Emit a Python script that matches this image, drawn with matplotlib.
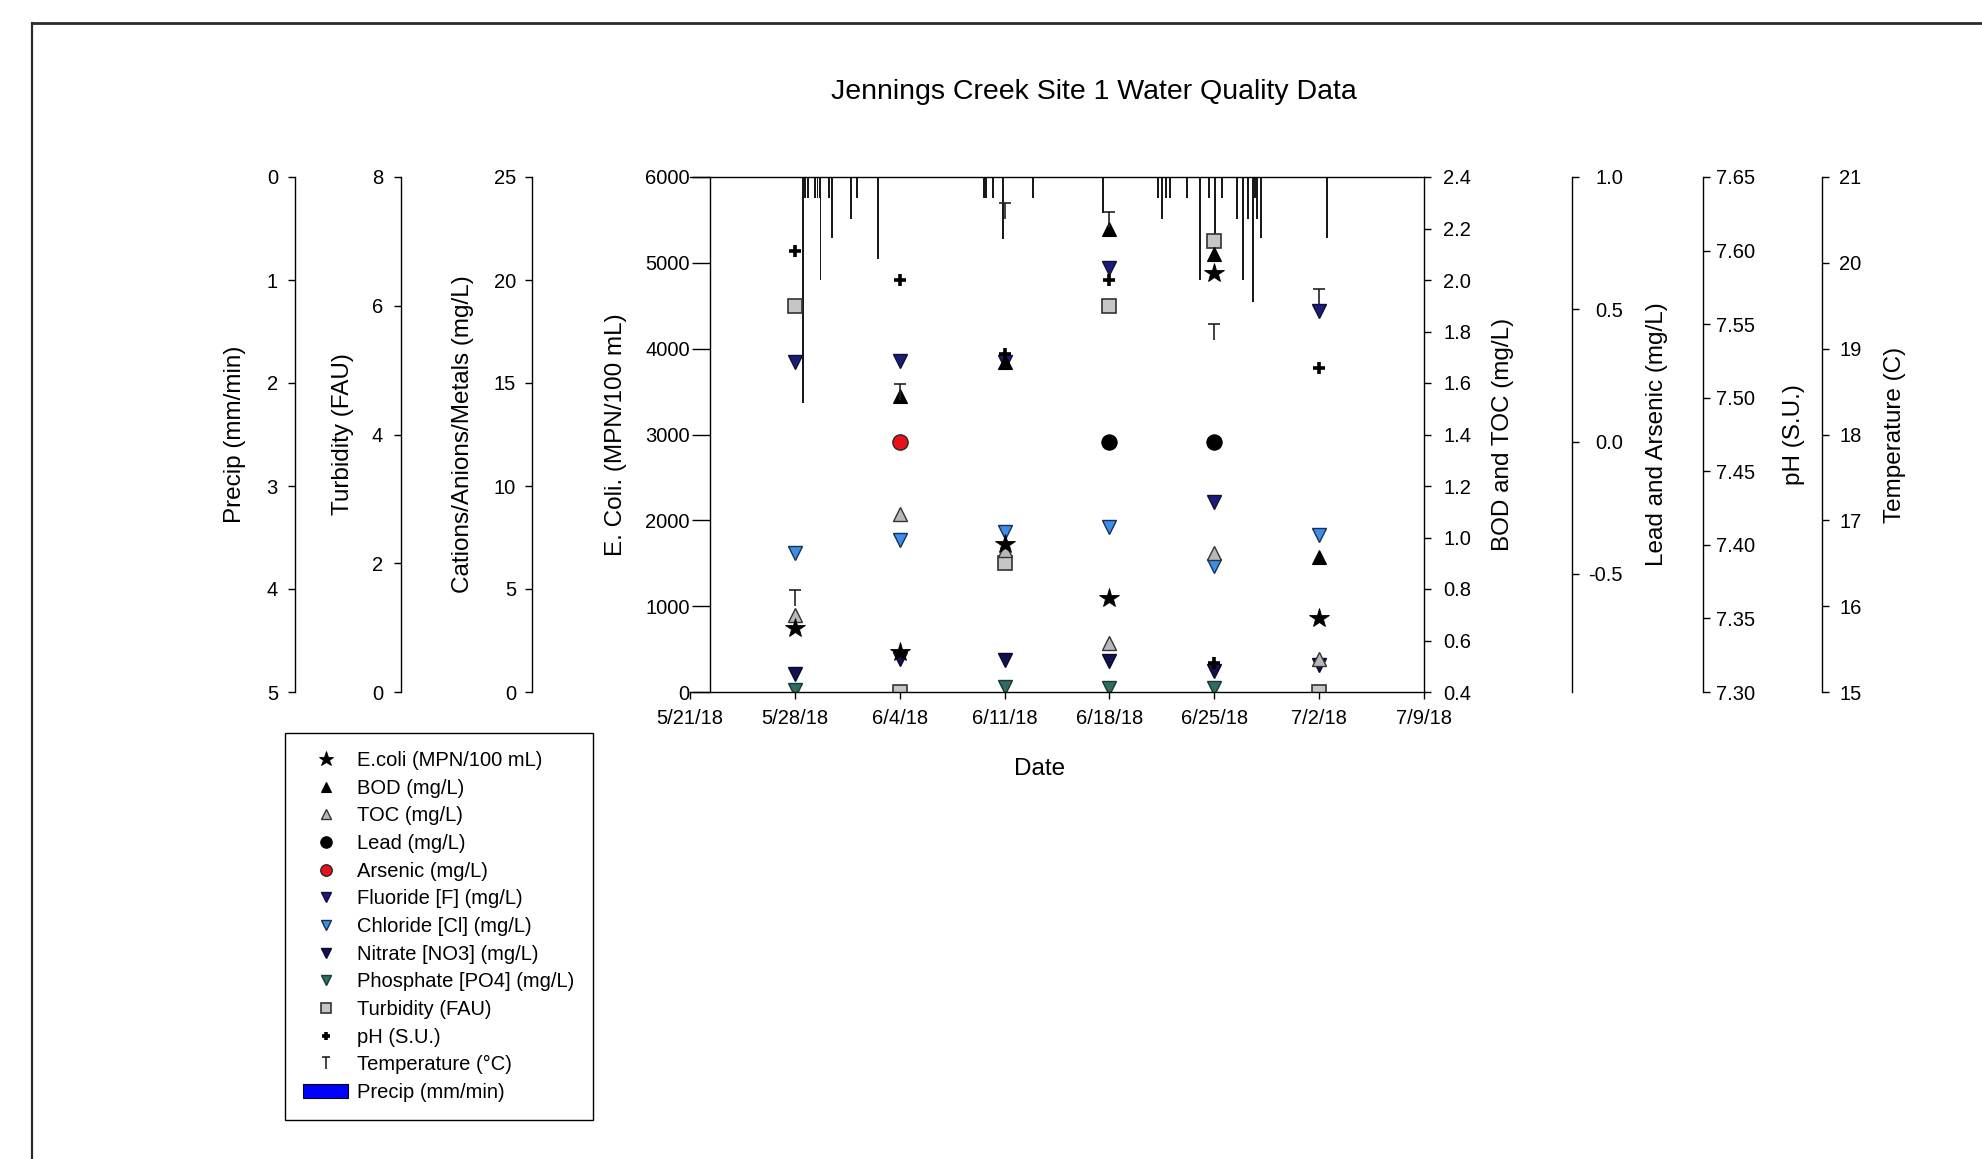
"""Jennings Creek Site 1 water quality -- SigmaPlot-style multi-axis scatter.

One shared date axis, E. coli on the main left axis, BOD/TOC on the right
frame, and six floating axes (precip, turbidity, ions/metals on the left;
lead/arsenic, pH, temperature on the right). Rain is drawn as bars hanging
from the top of the plot on an inverted precip scale.
"""

import matplotlib
matplotlib.use("Agg")
import matplotlib.pyplot as plt
import numpy as np
import pandas as pd
from matplotlib.dates import num2date
from matplotlib.lines import Line2D
from matplotlib.patches import Patch
from matplotlib.path import Path
from matplotlib.ticker import FuncFormatter

plt.rcParams["font.family"] = ["Liberation Sans", "DejaVu Sans"]

NA = np.nan

# --- weekly grab samples ---------------------------------------------------
SAMPLE_DATES = ["2018-05-28", "2018-06-04", "2018-06-11",
                "2018-06-18", "2018-06-25", "2018-07-02"]
ECOLI = [750, 470, 1730, 1090, 4880, 865]          # MPN/100 mL
BOD = [NA, 1.55, 1.68, 2.20, 2.10, 0.925]          # mg/L
TOC = [0.70, 1.09, 0.95, 0.59, 0.94, 0.53]         # mg/L
LEAD = [NA, NA, NA, 0.0, 0.0, NA]                  # mg/L
ARSENIC = [NA, 0.0, NA, NA, NA, NA]                # mg/L
FLUORIDE = [16.0, 16.05, 16.0, 20.6, 9.2, 18.5]    # mg/L
CHLORIDE = [6.75, 7.4, 7.75, 8.0, 6.1, 7.6]        # mg/L
NITRATE = [0.85, 1.6, 1.55, 1.5, 1.0, 1.3]         # mg/L
PHOSPHATE = [0.1, NA, 0.25, 0.2, 0.2, NA]          # mg/L
TURBIDITY = [6.0, 0.0, 2.0, 6.0, 7.0, 0.0]         # FAU
PH = [7.60, 7.58, 7.53, 7.58, 7.32, 7.52]          # S.U.
TEMP_C = [16.1, 18.5, 20.6, 20.5, 19.2, 19.6]

# --- rain gauge ------------------------------------------------------------
PRECIP_TIMES = [
    "2018-05-28 13:30", "2018-05-28 16:20", "2018-05-28 21:00",
    "2018-05-29 08:20", "2018-05-29 12:00", "2018-05-29 15:40",
    "2018-05-29 16:50", "2018-05-30 06:40", "2018-05-30 11:30",
    "2018-05-31 18:00", "2018-06-01 03:40", "2018-06-02 13:10",
    "2018-06-09 15:10", "2018-06-09 18:10", "2018-06-10 05:30",
    "2018-06-10 21:30", "2018-06-12 21:40", "2018-06-17 13:40",
    "2018-06-21 05:40", "2018-06-21 12:10", "2018-06-21 18:40",
    "2018-06-22 01:00", "2018-06-23 04:20", "2018-06-24 01:10",
    "2018-06-24 15:40", "2018-06-25 01:10", "2018-06-25 12:10",
    "2018-06-26 12:30", "2018-06-26 22:00", "2018-06-27 06:00",
    "2018-06-27 13:50", "2018-06-27 17:20", "2018-06-27 20:20",
    "2018-06-28 02:50", "2018-07-02 12:30",
]
PRECIP = [
    2.19, 0.20, 0.20,
    0.20, 0.20, 0.20,
    1.00, 0.20, 0.59,
    0.41, 0.20, 0.80,
    0.20, 0.20, 0.20,
    0.60, 0.20, 0.35,
    0.20, 0.41, 0.20,
    0.20, 0.20, 1.00,
    0.20, 0.58, 0.20,
    0.41, 1.00, 0.41,
    1.21, 0.20, 0.41,
    0.59, 0.59,
]                                                  # mm/min

X_START, X_END = "2018-05-21", "2018-07-09"

# --- page geometry (pixels of the 1983x1159 page) --------------------------
W, H = 1983, 1159
PLOT_L, PLOT_R = 690, 1424
PLOT_T, PLOT_B = 177, 692

INK = "#000000"
FRAME = "#2b2b2b"
TICK_FS = 14.5
LABEL_FS = 17.5

T_MARK = Path([(-0.38, 0.5), (0.38, 0.5), (0.0, 0.5), (0.0, -0.5)],
              [Path.MOVETO, Path.LINETO, Path.MOVETO, Path.LINETO])

STYLE = {
    "ecoli": dict(marker="*", ms=15, mfc="black", mec="black", mew=0.6),
    "bod": dict(marker="^", ms=10.5, mfc="black", mec="black", mew=0.8),
    "toc": dict(marker="^", ms=10.5, mfc="#b8b8b8", mec="#333333", mew=1.0),
    "lead": dict(marker="o", ms=11, mfc="black", mec="black", mew=0.8),
    "arsenic": dict(marker="o", ms=11, mfc="#e8101a", mec="#2a2a2a", mew=1.0),
    "fluoride": dict(marker="v", ms=10.5, mfc="#1b1b7d", mec="#10102e", mew=1.0),
    "chloride": dict(marker="v", ms=10.5, mfc="#3b8fe8", mec="#1a2d55", mew=1.0),
    "nitrate": dict(marker="v", ms=10.5, mfc="#121252", mec="#0a0a28", mew=1.0),
    "phosphate": dict(marker="v", ms=10.5, mfc="#2f6d62", mec="#1b3833", mew=1.0),
    "turbidity": dict(marker="s", ms=10, mfc="#c6c6c6", mec="#333333", mew=1.2),
    "ph": dict(marker="+", ms=8, mfc="black", mec="black", mew=2.6),
    "temp": dict(marker=T_MARK, ms=11, mfc="none", mec="#222222", mew=1.2),
}

LEGEND = [
    ("ecoli", "E.coli (MPN/100 mL)"),
    ("bod", "BOD (mg/L)"),
    ("toc", "TOC (mg/L)"),
    ("lead", "Lead (mg/L)"),
    ("arsenic", "Arsenic (mg/L)"),
    ("fluoride", "Fluoride [F] (mg/L)"),
    ("chloride", "Chloride [Cl] (mg/L)"),
    ("nitrate", "Nitrate [NO3] (mg/L)"),
    ("phosphate", "Phosphate [PO4] (mg/L)"),
    ("turbidity", "Turbidity (FAU)"),
    ("ph", "pH (S.U.)"),
    ("temp", "Temperature (°C)"),
]


def xfrac(px):
    return (px - PLOT_L) / (PLOT_R - PLOT_L)


def yfrac(py):
    return (PLOT_B - py) / (PLOT_B - PLOT_T)


def date_label(v, _pos):
    d = num2date(v)
    return f"{d.month}/{d.day}/{d:%y}"


def side_axis(host, side, spine_px, label, label_px, lim, ticks, fmt, pad):
    a = host.twinx()
    for s in a.spines.values():
        s.set_visible(False)
    sp = a.spines[side]
    sp.set_visible(True)
    sp.set_position(("axes", xfrac(spine_px)))
    sp.set_linewidth(1.0)
    a.yaxis.set_ticks_position(side)
    a.yaxis.set_label_position(side)
    a.set_ylim(*lim)
    a.set_yticks(ticks)
    a.yaxis.set_major_formatter(FuncFormatter(lambda v, _p: fmt.format(v)))
    a.tick_params(axis="y", direction="out", length=5, width=1.0, pad=pad,
                  labelsize=TICK_FS, colors=INK)
    a.set_ylabel(label, fontsize=LABEL_FS, color=INK)
    a.yaxis.label.set_va("center")
    a.yaxis.set_label_coords(xfrac(label_px), 0.5)
    return a


def dots(a, values, key):
    a.plot(DATES, values, ls="none", **STYLE[key])


DATES = pd.to_datetime(SAMPLE_DATES)


def main():
    fig = plt.figure(figsize=(W / 100, H / 100), dpi=100)
    fig.patch.set_facecolor("white")
    ax = fig.add_axes([PLOT_L / W, 1 - PLOT_B / H,
                       (PLOT_R - PLOT_L) / W, (PLOT_B - PLOT_T) / H])
    ax.patch.set_visible(False)

    # floating axes, left side then right side
    ax_rain = side_axis(ax, "left", 295, "Precip (mm/min)", 235,
                        (5, 0), [0, 1, 2, 3, 4, 5], "{:.0f}", 7.3)
    ax_turb = side_axis(ax, "left", 401, "Turbidity (FAU)", 343,
                        (0, 8), [0, 2, 4, 6, 8], "{:.0f}", 8)
    ax_ion = side_axis(ax, "left", 532, "Cations/Anions/Metals (mg/L)", 463,
                       (0, 25), [0, 5, 10, 15, 20, 25], "{:.0f}", 6.6)
    ax_bod = side_axis(ax, "right", PLOT_R, "BOD and TOC (mg/L)", 1503,
                       (0.4, 2.4), [0.4, 0.6, 0.8, 1.0, 1.2, 1.4, 1.6, 1.8,
                                    2.0, 2.2, 2.4], "{:.1f}", 8.8)
    ax_pb = side_axis(ax, "right", 1572, "Lead and Arsenic (mg/L)", 1657,
                      (-0.947, 1.0), [-0.5, 0.0, 0.5, 1.0], "{:.1f}", 31.7)
    ax_ph = side_axis(ax, "right", 1703, "pH (S.U.)", 1794,
                      (7.30, 7.65), [7.30, 7.35, 7.40, 7.45, 7.50, 7.55,
                                     7.60, 7.65], "{:.2f}", 4.4)
    ax_t = side_axis(ax, "right", 1822, "Temperature (C)", 1895,
                     (15, 21), [15, 16, 17, 18, 19, 20, 21], "{:.0f}", 7.3)
    for lbl in ax_pb.get_yticklabels():
        lbl.set_horizontalalignment("right")

    # rain hangs from the top
    ax_rain.bar(pd.to_datetime(PRECIP_TIMES), PRECIP, width=0.11,
                color="#1a1a1a", linewidth=0, align="center")

    dots(ax_turb, TURBIDITY, "turbidity")
    dots(ax_ion, PHOSPHATE, "phosphate")
    dots(ax_ion, NITRATE, "nitrate")
    dots(ax_ion, CHLORIDE, "chloride")
    dots(ax_ion, FLUORIDE, "fluoride")
    dots(ax_bod, TOC, "toc")
    dots(ax_bod, BOD, "bod")
    dots(ax_pb, LEAD, "lead")
    dots(ax_pb, ARSENIC, "arsenic")
    dots(ax_ph, PH, "ph")
    dots(ax_t, TEMP_C, "temp")

    # main axis: E. coli, drawn last so the stars sit on top
    ax.set_zorder(10)
    dots(ax, ECOLI, "ecoli")
    ax.set_xlim(pd.Timestamp(X_START), pd.Timestamp(X_END))
    ax.set_xticks(pd.date_range(X_START, X_END, freq="7D"))
    ax.xaxis.set_major_formatter(FuncFormatter(date_label))
    ax.set_ylim(0, 6000)
    ax.set_yticks(range(0, 6001, 1000))
    ax.spines["right"].set_visible(False)
    ax.spines["left"].set_position(("axes", xfrac(710)))
    for side in ("left", "top", "bottom"):
        ax.spines[side].set_linewidth(1.0)
    ax.tick_params(axis="y", direction="out", length=13, width=1.0, pad=1.5,
                   labelsize=TICK_FS, colors=INK)
    ax.tick_params(axis="x", direction="out", length=5, width=1.0, pad=7,
                   labelsize=TICK_FS, colors=INK)
    ax.set_ylabel("E. Coli. (MPN/100 mL)", fontsize=LABEL_FS)
    ax.yaxis.label.set_va("center")
    ax.yaxis.set_label_coords(xfrac(616), 0.5)
    ax.set_xlabel("Date", fontsize=LABEL_FS)
    ax.xaxis.label.set_va("center")
    ax.xaxis.set_label_coords(xfrac(1040), yfrac(769))

    fig.text(1094 / W, 1 - 92 / H, "Jennings Creek Site 1 Water Quality Data",
             ha="center", va="center", fontsize=20.5, color=INK)

    handles = [Line2D([], [], ls="none", **STYLE[k]) for k, _ in LEGEND]
    labels = [t for _, t in LEGEND]
    handles.append(Patch(facecolor="#0000ff", edgecolor="#000000", linewidth=0.8))
    labels.append("Precip (mm/min)")
    leg = fig.legend(handles, labels, loc="upper left",
                     bbox_to_anchor=(285 / W, 1 - 733 / H), borderaxespad=0,
                     fontsize=TICK_FS, frameon=True, fancybox=False,
                     edgecolor="black", framealpha=1, markerscale=0.75,
                     handlelength=2.25, handletextpad=0.45, borderpad=0.9,
                     labelspacing=0.43)
    leg.get_frame().set_linewidth(1.0)

    # page border (only its top and left edges fall on the page)
    fig.add_artist(Line2D([32 / W, 32 / W], [0, 1 - 23 / H],
                          transform=fig.transFigure, color=FRAME, lw=1.6))
    fig.add_artist(Line2D([32 / W, 1], [1 - 23 / H, 1 - 23 / H],
                          transform=fig.transFigure, color=FRAME, lw=2.0))

    fig.savefig("out.png", dpi=100, facecolor="white")
    plt.close(fig)


if __name__ == "__main__":
    main()
